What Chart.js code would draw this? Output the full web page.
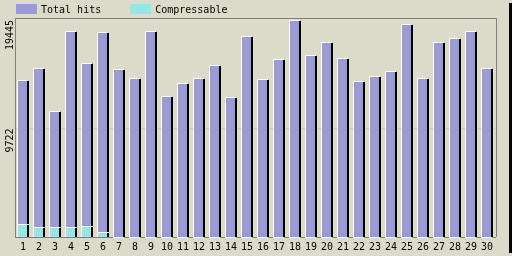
<!DOCTYPE html>
<html>
<head>
<meta charset="utf-8">
<script src="https://cdn.jsdelivr.net/npm/chart.js@4/dist/chart.umd.min.js"></script>
<style>
  html, body { margin: 0; padding: 0; background: #dcdac8; }
  #wrap { width: 509px; height: 253px; background: #dcdac8; box-shadow: 3px 3px 0 #000; }
  canvas { display: block; }
</style>
</head>
<body>
<div id="wrap"><canvas id="chart" width="509" height="253"></canvas></div>
<script>
// data
const days = ["1","2","3","4","5","6","7","8","9","10","11","12","13","14","15",
  "16","17","18","19","20","21","22","23","24","25","26","27","28","29","30"];
const totalHits = [14041, 15116, 11263, 18432, 15591, 18342, 15027, 14220, 18432, 12608,
  13799, 14220, 15385, 12518, 17984, 14131, 15923, 19445, 16281, 17446,
  16013, 13952, 14400, 14848, 19059, 14220, 17446, 17805, 18432, 15116];
const compressable = [1165, 869, 869, 869, 986, 448, 0, 0, 0, 0,
  0, 0, 0, 0, 0, 0, 0, 0, 0, 0,
  0, 0, 0, 0, 0, 0, 0, 0, 0, 0];
const seriesNames = ["Total hits", "Compressable"];
const yTickValues = [9722, 19445];
const yTickLabels = ["9722", "19445"];
const yMax = 19624;

const FONT = { family: "DejaVu Sans Mono", size: 10 };
const BAR_COLORS = ["#9b9bd4", "#99e4e4"];

// white highlight top/left, black shade right, like the old gif charts
const bevel = {
  id: "bevel",
  afterDatasetDraw(chart, args) {
    const ctx = chart.ctx;
    ctx.save();
    args.meta.data.forEach(bar => {
      const l = Math.round(bar.x - bar.width / 2);
      const r = Math.round(bar.x + bar.width / 2);
      const t = Math.round(bar.y);
      const b = Math.round(bar.base);
      const h = b - t;
      ctx.fillStyle = "#ffffff";
      ctx.fillRect(l, t, r - l - 1, 1);
      ctx.fillRect(l, t, 1, h);
      if (h > 1) {
        ctx.fillStyle = "#000000";
        ctx.fillRect(r - 2, t + 1, 2, h - 1);
      }
    });
    ctx.restore();
  }
};

const frame = {
  id: "frame",
  beforeDatasetsDraw(chart) {
    const { ctx, chartArea: a } = chart;
    ctx.save();
    ctx.strokeStyle = "#808080";
    ctx.lineWidth = 1;
    ctx.beginPath();
    ctx.moveTo(a.left, Math.round(a.top) + 0.5);
    ctx.lineTo(Math.round(a.right) + 1.5, Math.round(a.top) + 0.5);
    ctx.lineTo(Math.round(a.right) + 1.5, a.bottom);
    ctx.stroke();
    ctx.restore();
  }
};

const topLegend = {
  id: "topLegend",
  afterDraw(chart) {
    const ctx = chart.ctx;
    ctx.save();
    ctx.font = FONT.size + "px '" + FONT.family + "'";
    ctx.textBaseline = "middle";
    ctx.textAlign = "left";
    let x = 16;
    chart.data.datasets.forEach(ds => {
      ctx.fillStyle = ds.backgroundColor;
      ctx.fillRect(x, 4, 21, 10);
      ctx.fillStyle = "#000";
      ctx.fillText(ds.label, x + 25, 10);
      x += 25 + ctx.measureText(ds.label).width + 29;
    });
    ctx.restore();
  }
};

new Chart(document.getElementById("chart"), {
  type: "bar",
  data: {
    labels: days,
    datasets: [
      { label: seriesNames[0], data: totalHits, backgroundColor: BAR_COLORS[0], order: 1,
        borderWidth: 0, barPercentage: 0.75, categoryPercentage: 1 },
      { label: seriesNames[1], data: compressable, backgroundColor: BAR_COLORS[1], order: 0,
        borderWidth: 0, barPercentage: 0.75, categoryPercentage: 1 },
    ]
  },
  options: {
    responsive: false,
    animation: false,
    layout: { padding: { top: 18, right: 14, left: 0, bottom: 0 } },
    plugins: { legend: { display: false }, tooltip: { enabled: false } },
    scales: {
      x: {
        stacked: true,
        grid: { display: false, drawTicks: false, tickLength: 0 },
        border: { color: "#808080" },
        ticks: { color: "#000", font: FONT, padding: 4, maxRotation: 0, autoSkip: false },
        afterFit: s => { s.height = 16; }
      },
      y: {
        min: 0, max: yMax,
        afterBuildTicks: s => { s.ticks = yTickValues.map(v => ({ value: v })); },
        ticks: {
          color: "#000", font: FONT, padding: 5, minRotation: 90, maxRotation: 90,
          callback: (v) => yTickLabels[yTickValues.indexOf(v)]
        },
        grid: {
          tickLength: 0,
          color: ctx => ctx.tick && ctx.tick.value === 9722 ? "#c4c4cc" : "rgba(0,0,0,0)"
        },
        border: { color: "#808080" },
        afterFit: s => { s.width = 15; }
      }
    }
  },
  plugins: [frame, bevel, topLegend]
});
</script>
</body>
</html>
